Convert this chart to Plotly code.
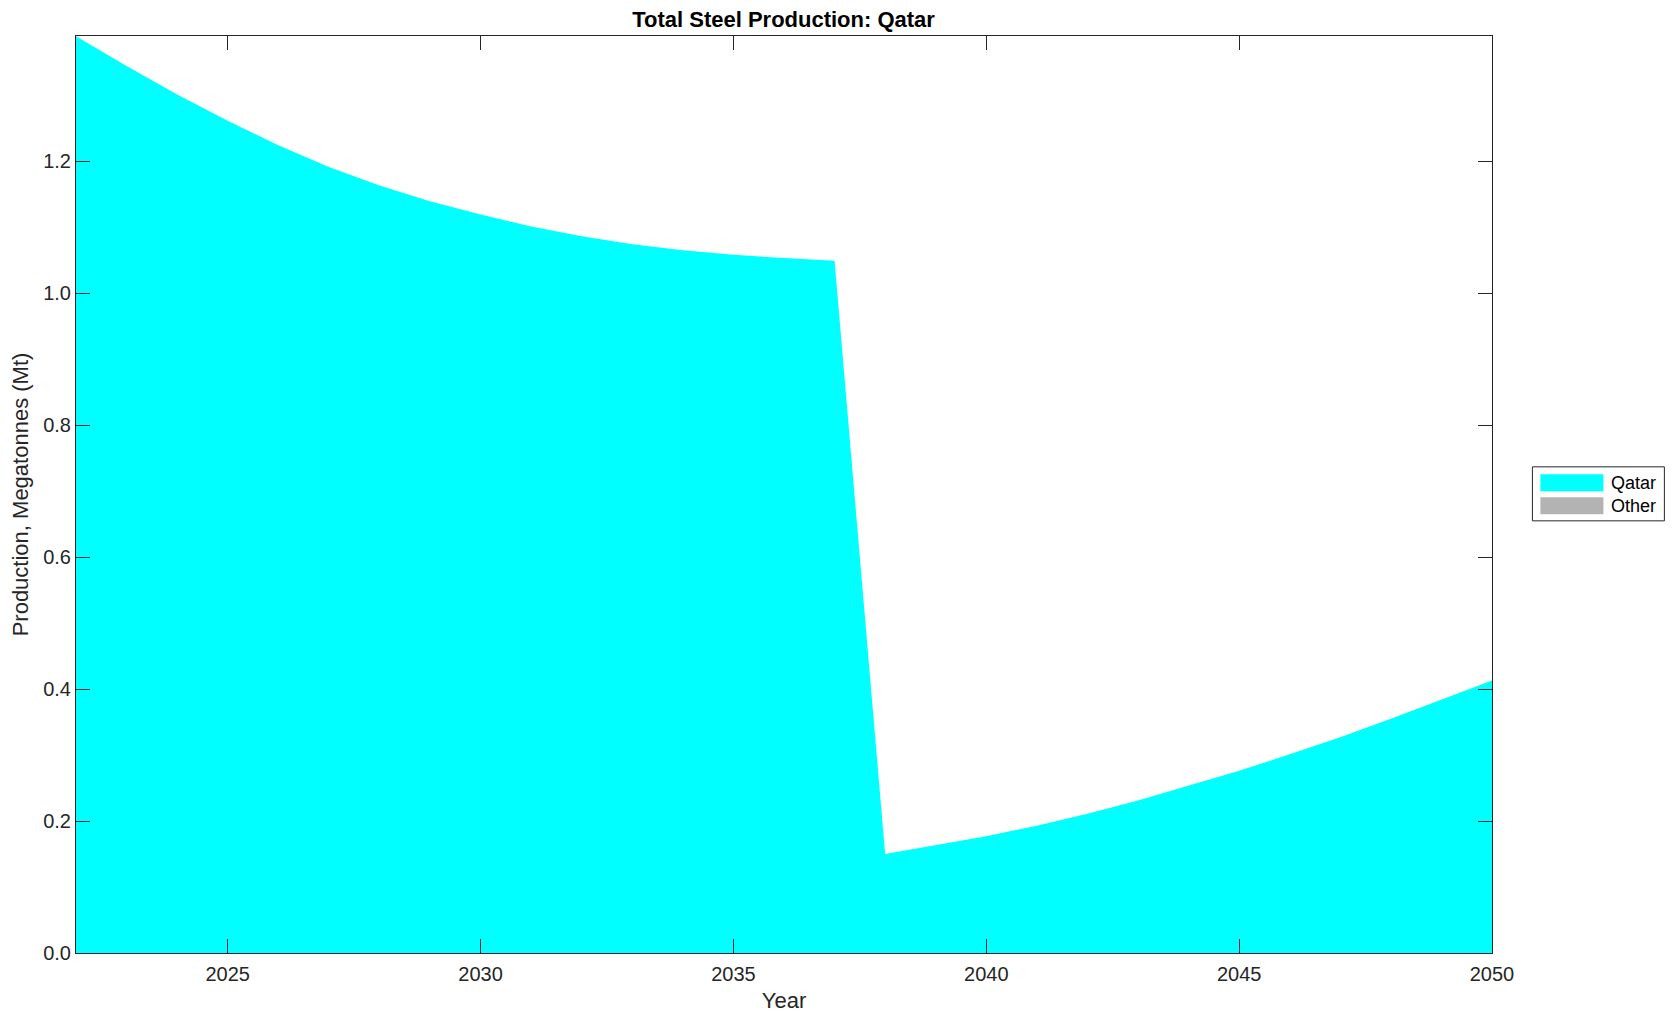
import plotly.graph_objects as go

years = list(range(2022, 2051))
qatar = [1.389, 1.344, 1.301, 1.261, 1.224, 1.191, 1.163, 1.139, 1.119, 1.101,
         1.086, 1.074, 1.065, 1.058, 1.053, 1.049,
         0.150, 0.163, 0.177, 0.193, 0.211, 0.231, 0.253, 0.276, 0.301, 0.327,
         0.355, 0.384, 0.413]
other = [0.0] * len(years)

series_names = ["Qatar", "Other"]
series_colors = ["#00FFFF", "#B3B3B3"]

x_ticks = [2025, 2030, 2035, 2040, 2045, 2050]
y_ticks = [0.0, 0.2, 0.4, 0.6, 0.8, 1.0, 1.2]

FONT = "Liberation Sans, Arial, Helvetica, sans-serif"
AX = "#262626"

fig = go.Figure()
for name, vals, col in zip(series_names, [qatar, other], series_colors):
    fig.add_trace(go.Scatter(
        x=years, y=vals, name=name, mode="lines", stackgroup="one",
        line=dict(width=0, color=col), fillcolor=col, showlegend=False,
        hoverinfo="x+y+name",
    ))

# page has an 8px body margin; figure sized so page coordinates match the target
OFF = 8
W, H = 1675 - 2 * OFF, 1021 - 2 * OFF
L, R, T, B = 75.5, 1491.6, 36.3, 953.0          # plot area in window coordinates
pw, ph = R - L, B - T

def px(x):
    return (x - L) / pw

def py(y):
    return (B - y) / ph

fig.update_layout(
    width=W, height=H,
    margin=dict(l=L - OFF, r=W - (R - OFF), t=T - OFF, b=H - (B - OFF), pad=0, autoexpand=False),
    paper_bgcolor="white", plot_bgcolor="white",
    font=dict(family=FONT, size=20, color=AX),
    title=dict(text="<b>Total Steel Production: Qatar</b>", x=((L + R) / 2 - OFF) / W, xanchor="center",
               y=1 - (19.5 - OFF) / H, yanchor="middle",
               font=dict(family=FONT, size=22, color="black")),
    xaxis=dict(range=[2022, 2050], tickvals=x_ticks, ticktext=[str(v) for v in x_ticks],
               showline=True, linecolor=AX, linewidth=1, mirror="ticks",
               ticks="inside", ticklen=14, tickcolor=AX, tickwidth=1,
               showgrid=False, zeroline=False, automargin=False, ticklabelstandoff=3,
               title=dict(text="Year", font=dict(size=22, color=AX), standoff=21),
               tickfont=dict(size=20, color=AX)),
    yaxis=dict(range=[0, 1.3895], tickvals=y_ticks, ticktext=[f"{v:.1f}" for v in y_ticks],
               showline=True, linecolor=AX, linewidth=1, mirror="ticks",
               ticks="inside", ticklen=14, tickcolor=AX, tickwidth=1,
               showgrid=False, zeroline=False, automargin=False,
               title=dict(text="Production, Megatonnes (Mt)", font=dict(size=22, color=AX), standoff=8),
               tickfont=dict(size=20, color=AX)),
)

# Legend drawn as a box (MATLAB style)
shapes = [
    dict(type="rect", xref="paper", yref="paper", x0=px(1532), x1=px(1664), y0=py(521), y1=py(467),
         line=dict(color=AX, width=1), fillcolor="white", layer="above"),
]
legend_rows = [(474.5, 491.5), (497.5, 514.5)]
for (y0, y1), name, col in zip(legend_rows, series_names, series_colors):
    shapes.append(dict(type="rect", xref="paper", yref="paper", x0=px(1540), x1=px(1603),
                       y0=py(y1), y1=py(y0), line=dict(width=0), fillcolor=col, layer="above"))
    fig.add_annotation(x=px(1609), y=py((y0 + y1) / 2), xref="paper", yref="paper",
                       text=name, showarrow=False, xanchor="left", yanchor="middle",
                       font=dict(family=FONT, size=18, color="black"))
fig.update_layout(shapes=shapes)

fig.write_html("out.html")
